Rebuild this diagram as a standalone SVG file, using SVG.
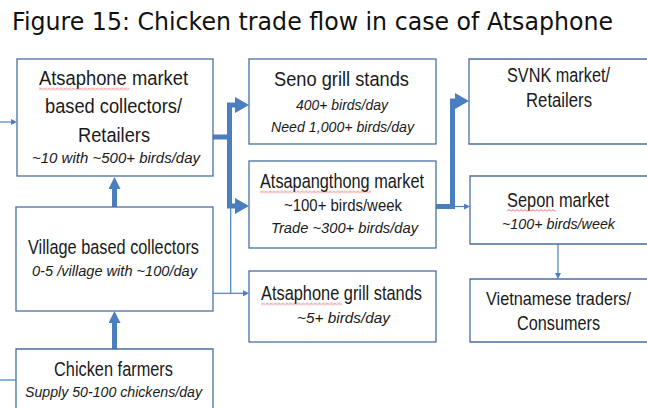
<svg xmlns="http://www.w3.org/2000/svg" width="647" height="408" viewBox="0 0 647 408">
  <style>
    .box { fill: #ffffff; stroke: #4a6fa3; stroke-width: 1.3; }
    .t { font-family: "Liberation Sans", Arial, sans-serif; font-size: 20.5px; fill: #1a1a1a; }
    .s { font-family: "Liberation Sans", Arial, sans-serif; font-size: 15.5px; font-style: italic; fill: #1a1a1a; }
    .n { font-family: "Liberation Sans", Arial, sans-serif; font-size: 16px; fill: #1a1a1a; }
    .title { font-family: "DejaVu Sans", Tahoma, Verdana, sans-serif; font-size: 24px; fill: #111111; }
    .thick { fill: none; stroke: #4a7ebf; stroke-width: 5; stroke-linejoin: miter; }
    .thin { fill: none; stroke: #4a7ebf; stroke-width: 1.2; }
    .sq { fill: url(#squiggle); }
  </style>
  <defs>
    <marker id="headL" markerUnits="userSpaceOnUse" viewBox="0 0 14 16" markerWidth="14" markerHeight="16" refX="0" refY="8" orient="auto">
      <path d="M0,0 L14,8 L0,16 z" fill="#4a7ebf"/>
    </marker>
    <marker id="headM" markerUnits="userSpaceOnUse" viewBox="0 0 12 12" markerWidth="12" markerHeight="12" refX="0" refY="6" orient="auto">
      <path d="M0,0 L12,6 L0,12 z" fill="#4a7ebf"/>
    </marker>
    <marker id="headS" markerUnits="userSpaceOnUse" viewBox="0 0 6 6" markerWidth="6" markerHeight="6" refX="0" refY="3" orient="auto">
      <path d="M0,0 L6,3 L0,6 z" fill="#4a7ebf"/>
    </marker>
    <pattern id="squiggle" patternUnits="userSpaceOnUse" width="4" height="3">
      <path d="M0,2.5 L2,0.5 L4,2.5" fill="none" stroke="#e03a3a" stroke-width="0.8"/>
    </pattern>
  </defs>

  <text class="title" x="12" y="30" textLength="601" lengthAdjust="spacingAndGlyphs">Figure 15: Chicken trade flow in case of Atsaphone</text>

  <!-- connectors -->
  <g id="connectors">
    <path class="thin" d="M0,122 H11" marker-end="url(#headS)"/>
    <path class="thin" d="M0,380 H16"/>
    <path class="thick" d="M114.5,207 V189" marker-end="url(#headM)"/>
    <path class="thick" d="M114.5,349 V323" marker-end="url(#headM)"/>
    <path class="thick" d="M213,137 H229.5 V105 H235" marker-end="url(#headL)"/>
    <path class="thick" d="M229.5,137 V206 H235" marker-end="url(#headL)"/>
    <path class="thin" d="M230.7,206 V293.3"/>
    <path class="thin" d="M213,293.3 H243" marker-end="url(#headS)"/>
    <path class="thick" d="M436,206.5 H452.5 V101 H455" marker-end="url(#headL)"/>
    <path class="thin" d="M452.5,206.5 H464" marker-end="url(#headS)"/>
    <path class="thin" d="M558,244 V273" marker-end="url(#headS)"/>
  </g>

  <g id="atsaphone-market">
    <rect class="box" x="17" y="59" width="196" height="117"/>
    <text class="t" x="39" y="85" textLength="149" lengthAdjust="spacingAndGlyphs">Atsaphone market</text>
    <rect class="sq" x="0" y="0" width="90" height="3" transform="translate(39,87.5)"/>
    <text class="t" x="45" y="113" textLength="137" lengthAdjust="spacingAndGlyphs">based collectors/</text>
    <text class="t" x="78" y="142" textLength="72" lengthAdjust="spacingAndGlyphs">Retailers</text>
    <text class="s" x="32" y="163" textLength="168" lengthAdjust="spacingAndGlyphs">~10 with ~500+ birds/day</text>
  </g>

  <g id="village-collectors">
    <rect class="box" x="16" y="207" width="197" height="104"/>
    <text class="t" x="28" y="254" textLength="171" lengthAdjust="spacingAndGlyphs">Village based collectors</text>
    <text class="s" x="32" y="276" textLength="165" lengthAdjust="spacingAndGlyphs">0-5 /village with ~100/day</text>
  </g>

  <g id="chicken-farmers">
    <path class="box" d="M16,408 V349 H213 V408"/>
    <text class="t" x="54" y="376" textLength="119" lengthAdjust="spacingAndGlyphs">Chicken farmers</text>
    <text class="s" x="25" y="397" textLength="177" lengthAdjust="spacingAndGlyphs">Supply 50-100 chickens/day</text>
  </g>

  <g id="seno-grill">
    <rect class="box" x="249" y="59" width="187" height="85"/>
    <text class="t" x="274" y="86" textLength="135" lengthAdjust="spacingAndGlyphs">Seno grill stands</text>
    <text class="s" x="296" y="110" textLength="92" lengthAdjust="spacingAndGlyphs">400+ birds/day</text>
    <text class="s" x="271" y="132" textLength="143" lengthAdjust="spacingAndGlyphs">Need 1,000+ birds/day</text>
  </g>

  <g id="atsapangthong-market">
    <rect class="box" x="249" y="161" width="187" height="87"/>
    <text class="t" x="260" y="188" textLength="164" lengthAdjust="spacingAndGlyphs">Atsapangthong market</text>
    <rect class="sq" x="0" y="0" width="111" height="3" transform="translate(260,190.5)"/>
    <text class="n" x="284" y="211" textLength="118" lengthAdjust="spacingAndGlyphs">~100+ birds/week</text>
    <text class="s" x="271" y="233" textLength="147" lengthAdjust="spacingAndGlyphs">Trade ~300+ birds/day</text>
  </g>

  <g id="atsaphone-grill">
    <rect class="box" x="249" y="271" width="187" height="71"/>
    <text class="t" x="261" y="300" textLength="161" lengthAdjust="spacingAndGlyphs">Atsaphone grill stands</text>
    <rect class="sq" x="0" y="0" width="81" height="3" transform="translate(261,302.5)"/>
    <text class="s" x="297" y="323" textLength="93" lengthAdjust="spacingAndGlyphs">~5+ birds/day</text>
  </g>

  <!-- right-hand boxes run on past the right border -->
  <g id="svnk-market">
    <path class="box" d="M647,59 H469 V144 H647"/>
    <text class="t" x="507" y="82" textLength="103" lengthAdjust="spacingAndGlyphs">SVNK market/</text>
    <text class="t" x="526" y="107" textLength="66" lengthAdjust="spacingAndGlyphs">Retailers</text>
  </g>

  <g id="sepon-market">
    <path class="box" d="M647,176 H470 V244 H647"/>
    <text class="t" x="507" y="207" textLength="102" lengthAdjust="spacingAndGlyphs">Sepon market</text>
    <rect class="sq" x="0" y="0" width="49" height="3" transform="translate(507,209)"/>
    <text class="s" x="502" y="229" textLength="113" lengthAdjust="spacingAndGlyphs">~100+ birds/week</text>
  </g>

  <g id="vietnamese-traders">
    <path class="box" d="M647,279 H470 V342 H647"/>
    <text class="t" x="631" y="305" text-anchor="end" style="font-size:19px" textLength="145" lengthAdjust="spacingAndGlyphs">Vietnamese traders/</text>
    <text class="t" x="517" y="330" textLength="83" lengthAdjust="spacingAndGlyphs">Consumers</text>
  </g>
</svg>
